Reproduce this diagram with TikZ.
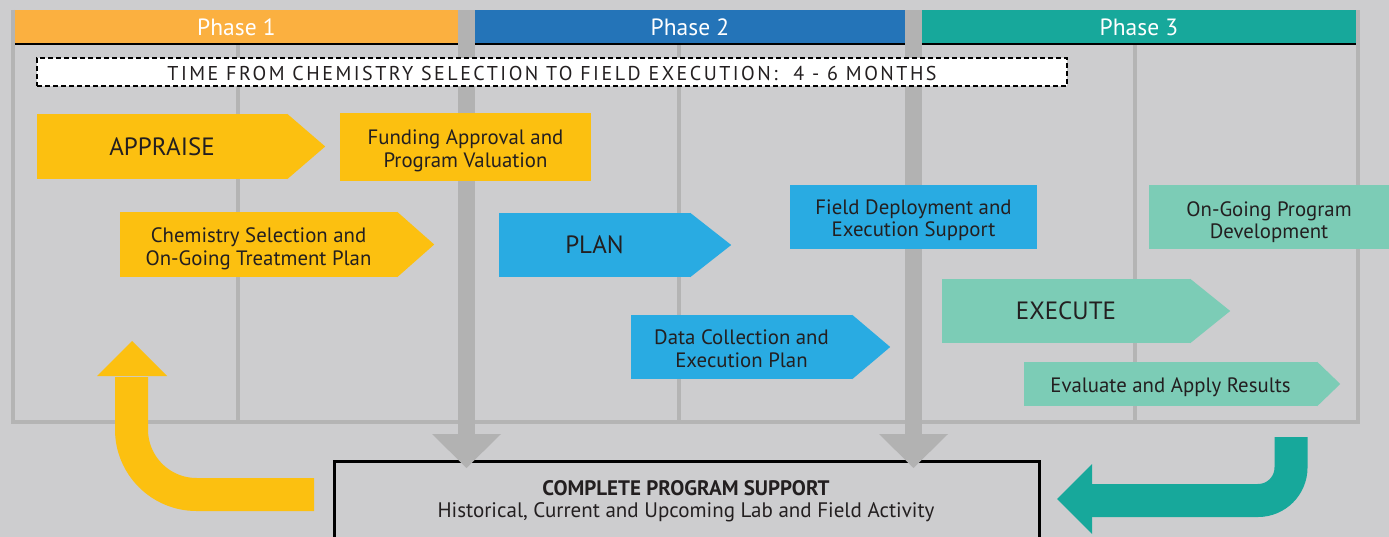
\documentclass[tikz,border=0pt]{standalone}
\usepackage{fontspec}
\setmainfont{PT Sans}
\usetikzlibrary{calc}
\definecolor{bgc}{RGB}{205,205,207}
\definecolor{gridc}{RGB}{180,180,180}
\definecolor{barc}{RGB}{178,178,178}
\definecolor{ph1}{RGB}{251,176,64}
\definecolor{ph2}{RGB}{36,116,184}
\definecolor{ph3}{RGB}{23,168,155}
\definecolor{yel}{RGB}{252,192,16}
\definecolor{blu}{RGB}{41,171,226}
\definecolor{mint}{RGB}{124,204,182}
\definecolor{txt}{RGB}{35,31,32}
\tikzset{
  gridline/.style={draw=gridc, line width=4pt},
  phasebar/.style={inner sep=0pt, minimum height=34pt, text=white, font=\fontsize{23.5}{26}\selectfont},
  boxnode/.style={inner sep=0pt, text=txt, align=center, font=\fontsize{20.8}{22.5}\selectfont},
  bignode/.style={inner sep=0pt, text=txt, font=\fontsize{25}{28}\selectfont},
}
\newcommand{\pointer}[3]{\fill[#1] (#2.north east) -- ($(#2.east)+(#3,0)$) -- (#2.south east) -- cycle;}
% move content down by #1 inside a centred node by enlarging its height
\newcommand{\lowered}[2]{\raisebox{0pt}[\dimexpr\height+#1*2\relax][\depth]{#2}}
\newcommand{\twolines}[3][4.5pt]{\lowered{#1}{\begin{tabular}{@{}c@{}}#2\\#3\end{tabular}}}
\begin{document}
\begin{tikzpicture}[x=1pt,y=-1pt]
\useasboundingbox (0,0) rectangle (1389,537);
\fill[bgc] (0,0) rectangle (1389,537);
% grid
\draw[gridline] (13,10) -- (13,422) -- (1358,422) -- (1358,10);
\foreach \x in {238,679,1135} \draw[gridline] (\x,44) -- (\x,422);
% support box
\draw[black, line width=3pt] (334,545) -- (334,461) -- (1039,461) -- (1039,545);
\node[inner sep=0pt, text=txt, align=center, font=\fontsize{21}{22}\selectfont] (support) at (686,501)
  {\textbf{COMPLETE PROGRAM SUPPORT}\\Historical, Current and Upcoming Lab and Field Activity};
% gray bars
\fill[barc] (458,10) rectangle (475,435);
\fill[barc] (432,434) -- (501,434) -- (466.5,468) -- cycle;
\fill[barc] (905,10) rectangle (922,435);
\fill[barc] (879,434) -- (948,434) -- (913.5,468) -- cycle;
% phase bars
\node[phasebar, fill=ph1, minimum width=443pt] (p1) at (236.5,27) {Phase 1};
\node[phasebar, fill=ph2, minimum width=430pt] (p2) at (690,27) {Phase 2};
\node[phasebar, fill=ph3, minimum width=434pt] (p3) at (1139,27) {Phase 3};
\foreach \p in {p1,p2,p3} \draw[black, line width=2pt] (\p.south west) -- (\p.south east);
% dashed time box
\node[draw=black, fill=white, dashed, dash pattern=on 5pt off 3pt, line width=1.5pt, inner sep=0pt,
  minimum width=1030pt, minimum height=28pt, text=txt,
  font=\fontsize{20}{22}\selectfont\addfontfeatures{LetterSpace=12.5}] (time) at (552,72)
  {\lowered{2pt}{TIME FROM CHEMISTRY SELECTION TO FIELD EXECUTION:\ \ 4 - 6 MONTHS}};
% phase 1 shapes
\node[bignode, fill=yel, minimum width=250pt, minimum height=65pt] (appraise) at (162,146.5) {APPRAISE};
\pointer{yel}{appraise}{38}
\node[boxnode, fill=yel, minimum width=251pt, minimum height=68pt] (funding) at (465.5,147) {\twolines{Funding Approval and}{Program Valuation}};
\node[boxnode, fill=yel, minimum width=277pt, minimum height=65pt] (chem) at (258.5,244.5) {\twolines[5pt]{Chemistry Selection and}{On-Going Treatment Plan}};
\pointer{yel}{chem}{37}
% phase 2 shapes
\node[bignode, fill=blu, minimum width=191pt, minimum height=64pt] (plan) at (594.5,245) {PLAN};
\pointer{blu}{plan}{41}
\node[boxnode, fill=blu, minimum width=247pt, minimum height=64pt] (field) at (913.5,217) {\twolines[4pt]{Field Deployment and}{Execution Support}};
\node[boxnode, fill=blu, minimum width=221pt, minimum height=64pt] (data) at (741.5,347) {\twolines{Data Collection and}{Execution Plan}};
\pointer{blu}{data}{38}
% phase 3 shapes
\node[boxnode, fill=mint, minimum width=240pt, minimum height=64pt] (ongoing) at (1269,217) {\twolines[6pt]{On-Going Program}{Development}};
\node[bignode, fill=mint, minimum width=248pt, minimum height=64pt] (execute) at (1066,311) {EXECUTE};
\pointer{mint}{execute}{40}
\node[boxnode, fill=mint, minimum width=293pt, minimum height=44pt] (evaluate) at (1170.5,384) {\lowered{3pt}{Evaluate and Apply Results}};
\pointer{mint}{evaluate}{23}
% return arrows
\coordinate (yfrom) at (314,494.5);
\coordinate (ycorner) at (131.5,494.5);
\coordinate (yto) at (131.5,377);
\draw[yel, line width=33pt, rounded corners=65pt] (yfrom) -- (ycorner) -- (yto);
\fill[yel] (97,376) -- (167,376) -- (132,341) -- cycle;
\coordinate (tfrom) at (1291,437);
\coordinate (tcorner) at (1291,500.5);
\coordinate (tto) at (1091,500.5);
\draw[ph3, line width=33pt, rounded corners=33pt] (tfrom) -- (tcorner) -- (tto);
\fill[ph3] (1092,464) -- (1092,534) -- (1057,499) -- cycle;
\end{tikzpicture}
\end{document}
